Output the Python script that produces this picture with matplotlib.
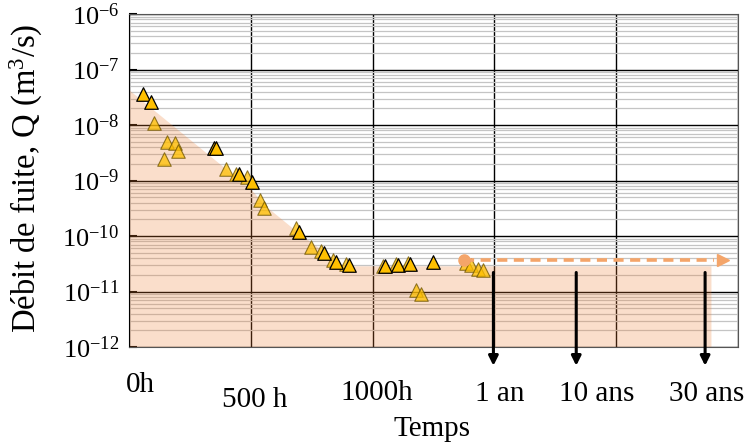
import numpy as np
import matplotlib
matplotlib.use("Agg")
from matplotlib import pyplot as plt
from matplotlib.ticker import LogLocator, NullFormatter

plt.rcParams['font.family'] = ['Liberation Serif', 'DejaVu Serif']
plt.rcParams['mathtext.fontset'] = 'custom'
plt.rcParams['mathtext.rm'] = 'Liberation Serif'
plt.rcParams['mathtext.it'] = 'Liberation Serif:italic'

# DATA (temps en heures, Q en m3/s)
t_h = [56, 89, 104, 155, 189, 202, 145, 350, 357, 398, 441, 452, 486, 503,
       537, 553, 687, 698, 749, 790, 799, 837, 851, 892, 903,
       1042, 1053, 1097, 1104, 1145, 1152, 1247, 1179, 1200,
       1384, 1404, 1431, 1455]
q = [3.6e-8, 2.6e-8, 1.1e-8, 5.0e-9, 4.7e-9, 3.4e-9, 2.4e-9, 3.8e-9, 3.8e-9,
     1.6e-9, 1.3e-9, 1.3e-9, 1.17e-9, 9.5e-10,
     4.5e-10, 3.2e-10, 1.4e-10, 1.2e-10, 6.3e-11, 5.4e-11, 4.9e-11, 3.7e-11,
     3.4e-11, 3.1e-11, 3.0e-11,
     2.9e-11, 2.9e-11, 3.1e-11, 3.0e-11, 3.2e-11, 3.1e-11, 3.4e-11, 1.06e-11, 9.0e-12,
     3.2e-11, 3.0e-11, 2.5e-11, 2.4e-11]
faded = [0, 0, 1, 1, 1, 1, 1, 0, 0, 1, 1, 0, 1, 0,
         1, 1, 1, 0, 1, 1, 0, 1, 0, 1, 0,
         1, 0, 1, 0, 1, 0, 0, 1, 1,
         1, 1, 1, 1]

# enveloppe (zone ombree)
env_t = [0, 500, 560, 700, 880, 2389]
env_q = [4.3e-8, 7.0e-10, 3.5e-10, 1.1e-10, 2.9e-11, 2.9e-11]

# extrapolation
extra_t = [1376, 2400]
extra_q = [3.7e-11, 3.7e-11]

arrow_t = [1496, 1836, 2365]
xlabels = ["0h", "500 h", "1000h", "1 an", "10 ans", "30 ans"]
xlabel_pos = [45, 514, 1017, 1520, 1918, 2373]
xlabel_base = [392, 407, 400, 401, 401, 401]   # ligne de base (px depuis le haut)

fig = plt.figure(figsize=(7.49, 4.45), dpi=100)
ax = fig.add_axes([0.1722, 0.2202, 0.8131, 0.7483])
ax.set_yscale('log')
ax.set_xlim(0, 2500)
ax.set_ylim(1e-12, 1e-6)

ax.set_axisbelow(True)
ax.yaxis.set_minor_locator(LogLocator(base=10, subs=np.arange(2, 10), numticks=20))
ax.yaxis.set_minor_formatter(NullFormatter())
ax.set_xticks(np.arange(0, 2501, 500))
ax.set_xticklabels([])
ax.tick_params(axis='x', length=0)
ax.tick_params(axis='y', which='major', direction='in', length=6, width=1.5, labelsize=19, pad=7)
ax.tick_params(axis='y', which='minor', length=0)
ax.grid(which='minor', axis='y', color='#c4c4c4', lw=0.9)
ax.grid(which='major', axis='both', color='black', lw=1.0)
for s in ax.spines.values():
    s.set_color('#555555')
ax.spines['left'].set_color('black')

ax.fill_between(env_t, env_q, 1e-12, color='#ED7D31', alpha=0.25, lw=0, zorder=1)

t_arr = np.array(t_h)
q_arr = np.array(q)
f_arr = np.array(faded) == 1
ax.scatter(t_arr[f_arr], q_arr[f_arr], marker='^', s=95, facecolor='#FFC000',
           edgecolor='#6b5200', linewidths=0.8, alpha=0.75, zorder=3)
ax.scatter(t_arr[~f_arr], q_arr[~f_arr], marker='^', s=95, facecolor='#FFC000',
           edgecolor='black', linewidths=0.9, zorder=4)

ax.plot(extra_t, extra_q, color='#F4A56A', lw=2.6, dashes=(2.8, 1.8), zorder=5)
ax.plot(extra_t[0], extra_q[0], 'o', color='#F4A56A', ms=8, zorder=5)
ax.plot(extra_t[1] + 40, extra_q[1], '>', color='#F4A56A', ms=9, zorder=5)

for t in arrow_t:
    ax.annotate('', xy=(t, 4.6e-13), xytext=(t, 2.2e-11),
                arrowprops=dict(arrowstyle='-|>', color='black', lw=2.2,
                                mutation_scale=14, shrinkA=0, shrinkB=0),
                annotation_clip=False, zorder=6)

trans = ax.get_xaxis_transform()
for lab, pos, base in zip(xlabels, xlabel_pos, xlabel_base):
    ax.text(pos, -(base - 347) / 333, lab, transform=trans, ha='center', va='baseline', fontsize=21)

ax.set_yticks([1e-6, 1e-7, 1e-8, 1e-9, 1e-10, 1e-11, 1e-12])
ax.set_yticklabels([r'$10^{-6}$', r'$10^{-7}$', r'$10^{-8}$', r'$10^{-9}$',
                    r'$10^{-10}$', r'$10^{-11}$', r'$10^{-12}$'])

fig.text(0.577, 1 - 436 / 445, "Temps", ha='center', va='baseline', fontsize=21)
fig.text(0.036, 0.6, "Débit de fuite, Q (m$^3$/s)", rotation=90, ha='center', va='center', fontsize=23.5)

fig.savefig("out.png", dpi=100)
